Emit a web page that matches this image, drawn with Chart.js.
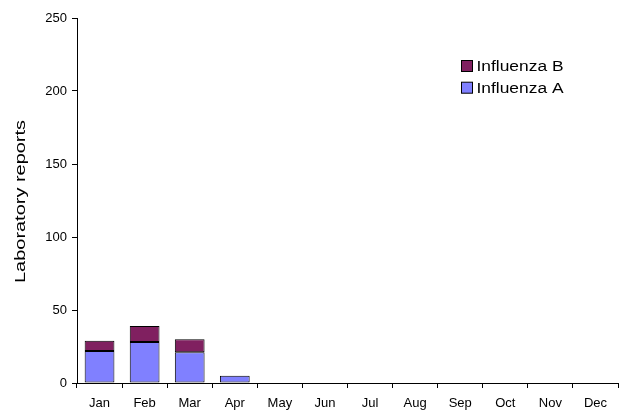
<!DOCTYPE html>
<html>
<head>
<meta charset="utf-8">
<script src="https://cdn.jsdelivr.net/npm/chart.js@4/dist/chart.umd.min.js"></script>
<style>
html,body{margin:0;padding:0;background:#fff;}
#wrap{width:619px;height:410px;position:relative;}
</style>
</head>
<body>
<div id="wrap"><canvas id="c" width="619" height="410"></canvas></div>
<script>
const months = ['Jan','Feb','Mar','Apr','May','Jun','Jul','Aug','Sep','Oct','Nov','Dec'];
const influenzaA = [22, 28, 21, 5, 0, 0, 0, 0, 0, 0, 0, 0];
const influenzaB = [7, 11, 9, 0, 0, 0, 0, 0, 0, 0, 0, 0];
const yTicks = [0, 50, 100, 150, 200, 250];
const yTitle = 'Laboratory reports';

const FONT = "'Liberation Sans', Arial, sans-serif";

const textPlugin = {
  id: 'customText',
  afterDraw(chart) {
    const ctx = chart.ctx;
    const items = chart.data.datasets.slice().reverse();
    ctx.save();
    // legend
    ctx.font = '14px ' + FONT;
    ctx.textBaseline = 'middle';
    items.forEach((ds, i) => {
      const y = 66 + i * 21.7;
      ctx.fillStyle = ds.backgroundColor;
      ctx.fillRect(461.5, y - 5.5, 11, 11);
      ctx.strokeStyle = '#000';
      ctx.lineWidth = 1;
      ctx.strokeRect(461.5, y - 5.5, 11, 11);
      ctx.fillStyle = '#000';
      const w = ctx.measureText(ds.label).width;
      ctx.save();
      ctx.translate(476.5, y + 1);
      ctx.scale(87 / w * (ds.label === 'Influenza A' ? 1 : 1), 1);
      ctx.fillText(ds.label, 0, 0);
      ctx.restore();
    });
    // y title
    ctx.font = '14px ' + FONT;
    ctx.textAlign = 'center';
    ctx.textBaseline = 'middle';
    const tw = ctx.measureText(yTitle).width;
    ctx.translate(21, 201.5);
    ctx.rotate(-Math.PI / 2);
    ctx.scale(163 / tw, 1);
    ctx.fillStyle = '#000';
    ctx.fillText(yTitle, 0, 0);
    ctx.restore();
  }
};

new Chart(document.getElementById('c'), {
  type: 'bar',
  data: {
    labels: months,
    datasets: [
      { label: 'Influenza A', data: influenzaA, backgroundColor: '#8080FF', borderColor: '#000', borderWidth: 1, borderSkipped: false },
      { label: 'Influenza B', data: influenzaB, backgroundColor: '#802060', borderColor: '#000', borderWidth: 1, borderSkipped: false }
    ]
  },
  options: {
    responsive: false,
    animation: false,
    layout: { padding: { top: 18, right: 1, left: 0, bottom: 0 } },
    plugins: { legend: { display: false }, tooltip: { enabled: false } },
    datasets: { bar: { barPercentage: 0.66, categoryPercentage: 1.0 } },
    scales: {
      x: {
        stacked: true,
        offset: true,
        grid: { display: true, drawOnChartArea: false, drawTicks: true, tickLength: 5, color: '#000', offset: true },
        border: { display: true, color: '#000', width: 1 },
        ticks: { color: '#000', font: { family: FONT, size: 13 }, padding: 8, maxRotation: 0, autoSkip: false },
        afterFit(s) { s.height = 27; }
      },
      y: {
        stacked: true,
        min: 0, max: 250,
        afterBuildTicks(s) { s.ticks = yTicks.map(v => ({ value: v })); },
        grid: { display: true, drawOnChartArea: false, drawTicks: true, tickLength: 5, color: '#000' },
        border: { display: true, color: '#000', width: 1 },
        ticks: { color: '#000', font: { family: FONT, size: 13 }, padding: 5 },
        afterFit(s) { s.width = 77; }
      }
    }
  },
  plugins: [textPlugin]
});
</script>
</body>
</html>
